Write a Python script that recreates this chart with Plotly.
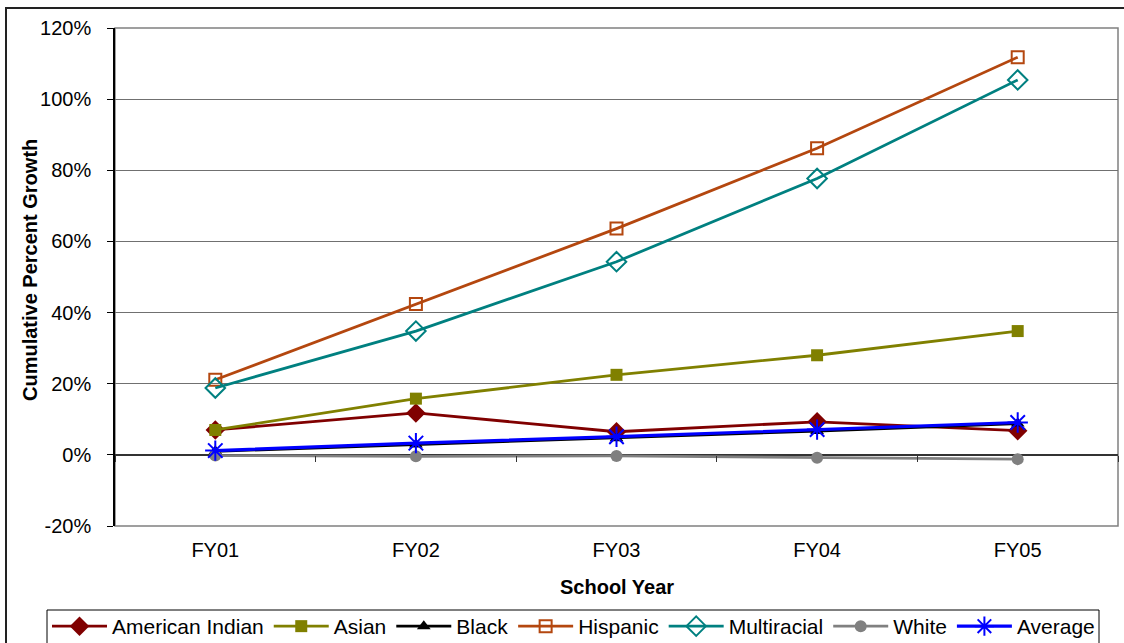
import plotly.graph_objects as go

# School years on the category axis
years = ["FY01", "FY02", "FY03", "FY04", "FY05"]

# Cumulative percent growth by group (fractions)
american_indian = [0.070, 0.118, 0.065, 0.093, 0.068]
asian = [0.070, 0.158, 0.225, 0.280, 0.348]
black = [0.010, 0.029, 0.047, 0.067, 0.088]
hispanic = [0.211, 0.424, 0.636, 0.862, 1.118]
multiracial = [0.188, 0.348, 0.543, 0.777, 1.054]
white = [-0.002, -0.004, -0.003, -0.008, -0.012]
average = [0.012, 0.033, 0.051, 0.071, 0.091]

y_ticks = [-0.2, 0.0, 0.2, 0.4, 0.6, 0.8, 1.0, 1.2]
y_tick_text = [f"{round(v * 100)}%" for v in y_ticks]

series = [
    ("American Indian", american_indian, "#800000", "diamond", 15, 2.8),
    ("Asian", asian, "#808000", "square", 12, 2.8),
    ("Black", black, "#000000", "triangle-up", 12, 2.8),
    ("Hispanic", hispanic, "#B4470F", "square-open", 12, 2.8),
    ("Multiracial", multiracial, "#008080", "diamond-open", 15, 2.8),
    ("White", white, "#808080", "circle", 12, 2.8),
    ("Average", average, "#0000FF", "asterisk-open", 17, 3.2),
]

FONT = "Liberation Sans, Arial, sans-serif"

fig = go.Figure()
for name, vals, color, symbol, size, lw in series:
    fig.add_trace(go.Scatter(
        x=years, y=vals, name=name, mode="lines+markers",
        line=dict(color=color, width=lw),
        marker=dict(symbol=symbol, size=size, color=color,
                    line=dict(color=color, width=2 if "open" in symbol else 0)),
    ))

# Invisible trace on a second x axis that sits on the zero line, carrying
# the category boundary tick marks
fig.add_trace(go.Scatter(x=years, y=[None] * len(years), xaxis="x2",
                         showlegend=False, hoverinfo="skip"))

# Plot area size in pixels
L, R, T, B = 115, 6, 28, 117
W, H = 1124, 643
pw, ph = W - L - R, H - T - B

def px_x(px):
    return (px - L) / pw

def px_y(py):
    return (H - B - py) / ph

fig.update_layout(
    width=W, height=H,
    margin=dict(l=L, r=R, t=T, b=B, autoexpand=False),
    paper_bgcolor="white", plot_bgcolor="white",
    font=dict(family=FONT, size=20, color="black"),
    showlegend=True,
    legend=dict(
        orientation="h", x=px_x(47), xanchor="left", y=px_y(606), yanchor="top",
        borderwidth=0, bgcolor="rgba(0,0,0,0)",
        font=dict(family=FONT, size=21, color="black"),
        itemwidth=55, tracegroupgap=0,
    ),
    xaxis=dict(
        type="category", range=[-0.5, 4.5], showgrid=False, zeroline=False,
        showline=False, ticks="", tickfont=dict(size=20),
        ticklabelstandoff=10,
    ),
    xaxis2=dict(
        type="category", overlaying="x", matches="x", anchor="free",
        position=(0 - y_ticks[0]) / (y_ticks[-1] - y_ticks[0]),
        side="bottom", showticklabels=False, showgrid=False, zeroline=False,
        showline=False, ticks="outside", tickson="boundaries",
        ticklen=6, tickcolor="#333333", tickwidth=1,
    ),
    yaxis=dict(
        range=[y_ticks[0], y_ticks[-1]], tickvals=y_ticks, ticktext=y_tick_text,
        showgrid=True, gridcolor="#707070", gridwidth=1,
        zeroline=True, zerolinecolor="#333333", zerolinewidth=1.5,
        showline=True, linecolor="black", linewidth=1.5,
        ticks="outside", ticklen=6, tickcolor="black",
        tickfont=dict(size=20), ticklabelstandoff=12,
    ),
    shapes=[
        # plot area border
        dict(type="rect", xref="paper", yref="paper", x0=0, x1=1, y0=0, y1=1,
             line=dict(color="#808080", width=1.5), layer="below"),
        # outer chart border
        dict(type="rect", xref="paper", yref="paper",
             x0=px_x(6), x1=px_x(1140), y0=px_y(660), y1=px_y(8),
             line=dict(color="#222222", width=2)),
        # legend frame
        dict(type="rect", xref="paper", yref="paper",
             x0=px_x(47), x1=px_x(1099), y0=px_y(660), y1=px_y(610),
             line=dict(color="black", width=1)),
    ],
    annotations=[
        dict(text="<b>Cumulative Percent Growth</b>", textangle=-90,
             xref="paper", yref="paper", x=px_x(30), y=px_y(270),
             xanchor="center", yanchor="middle",
             showarrow=False, font=dict(size=20, family=FONT)),
        dict(text="<b>School Year</b>", xref="paper", yref="paper",
             x=0.5, y=px_y(587), xanchor="center", yanchor="middle",
             showarrow=False, font=dict(size=20, family=FONT)),
    ],
)

fig.write_html("out.html")
